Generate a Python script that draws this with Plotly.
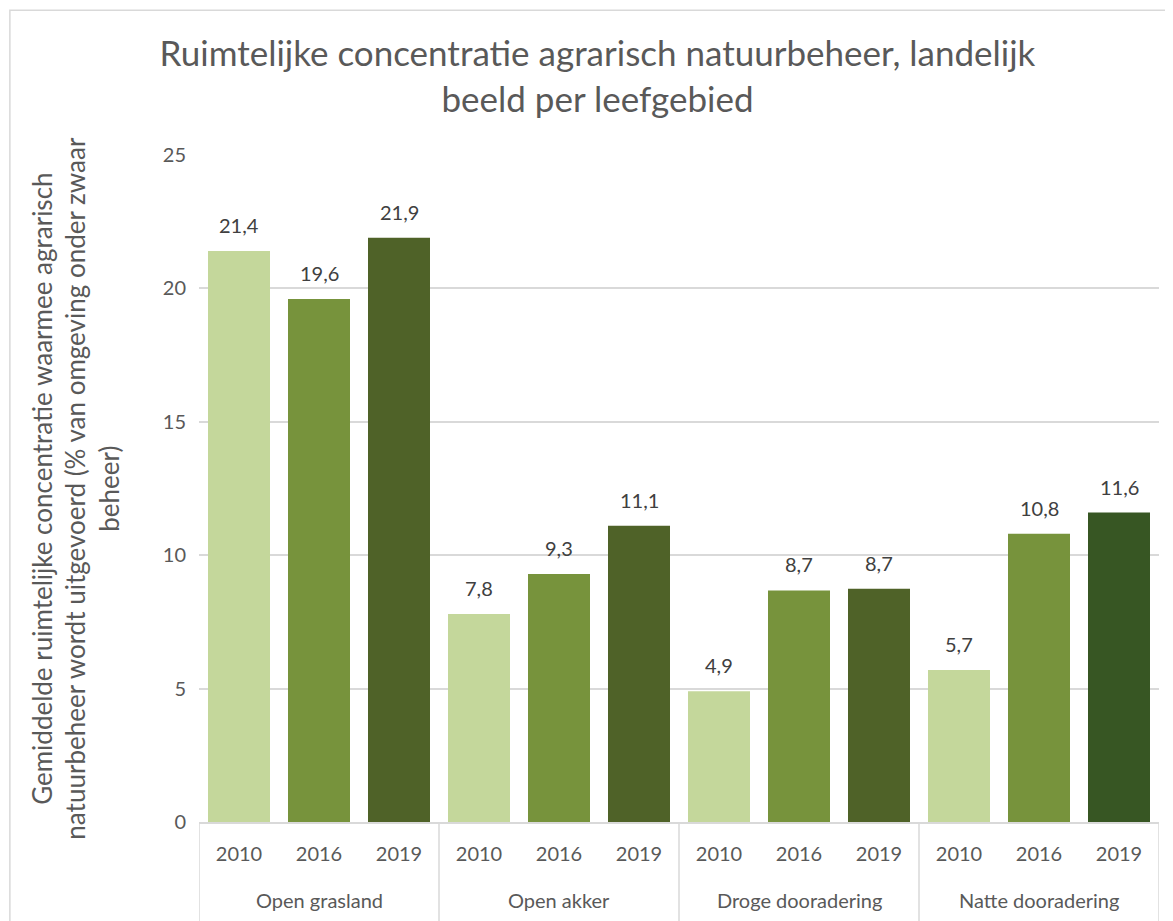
import plotly.graph_objects as go

# data
groups = ["Open grasland", "Open akker", "Droge dooradering", "Natte dooradering"]
years = ["2010", "2016", "2019"]
values = [
    [21.4, 19.6, 21.9],
    [7.8, 9.3, 11.1],
    [4.9, 8.68, 8.74],
    [5.7, 10.8, 11.6],
]
year_colors = {"2010": "#C4D79B", "2016": "#77933C", "2019": "#4F6228"}
last_bar_color = "#375623"

x_pos, x_year, y_vals, colors = [], [], [], []
for gi, row in enumerate(values):
    for yi, v in enumerate(row):
        x_pos.append(gi * len(years) + yi)
        x_year.append(years[yi])
        y_vals.append(v)
        colors.append(year_colors[years[yi]])
colors[-1] = last_bar_color

font_family = "Lato, 'Open Sans', sans-serif"
txt_color = "#595959"
grid_color = "#D9D9D9"

fig = go.Figure(go.Bar(
    x=x_pos,
    y=y_vals,
    marker=dict(color=colors, line=dict(width=0)),
    hoverinfo="skip",
))

# data labels (decimal comma)
for x, v in zip(x_pos, y_vals):
    fig.add_annotation(
        x=x, y=v, xref="x", yref="y",
        text=f"{v:.1f}".replace(".", ","),
        showarrow=False, yanchor="bottom", yshift=12,
        font=dict(size=20, color="#404040", family=font_family),
    )

# group labels + dividers below the axis
n = len(years)
for gi, g in enumerate(groups):
    fig.add_annotation(
        x=gi * n + (n - 1) / 2, y=-0.117, xref="x", yref="paper",
        text=g, showarrow=False, xanchor="center", yanchor="middle",
        font=dict(size=20, color=txt_color, family=font_family),
    )
for gi in range(len(groups) + 1):
    fig.add_shape(
        type="line", xref="x", yref="paper",
        x0=gi * n - 0.5, x1=gi * n - 0.5, y0=0, y1=-0.16,
        line=dict(color=grid_color, width=1.5),
    )

# y-axis title
fig.add_annotation(
    xref="paper", yref="paper", x=-0.129, y=0.5,
    text="Gemiddelde ruimtelijke concentratie waarmee agrarisch<br>"
         "natuurbeheer wordt uitgevoerd (% van omgeving onder zwaar<br>beheer)",
    textangle=-90, showarrow=False, xanchor="center", yanchor="middle",
    font=dict(size=26, color=txt_color, family=font_family),
)

# chart area border
fig.add_shape(
    type="rect", xref="paper", yref="paper",
    x0=-0.197, x1=1.0135, y0=-0.3, y1=1.217,
    line=dict(color=grid_color, width=1.5), fillcolor="rgba(0,0,0,0)", layer="below",
)

fig.update_layout(
    width=1165, height=913,
    margin=dict(l=191, r=14, t=147, b=99),
    paper_bgcolor="white", plot_bgcolor="white",
    bargap=0.225,
    showlegend=False,
    font=dict(family=font_family, color=txt_color, size=20),
    title=dict(
        text="Ruimtelijke concentratie agrarisch natuurbeheer, landelijk<br>beeld per leefgebied",
        x=0.506, xref="container", xanchor="center",
        y=0.936, yref="container", yanchor="top",
        font=dict(size=35, color=txt_color, family=font_family),
    ),
    xaxis=dict(
        range=[-0.5, len(x_pos) - 0.5],
        tickmode="array", tickvals=x_pos, ticktext=x_year,
        showline=True, linecolor=grid_color, linewidth=1.5,
        tickfont=dict(size=20, color=txt_color),
        ticks="", showgrid=False, zeroline=False,
        ticklabelstandoff=13,
    ),
    yaxis=dict(
        range=[0, 25], dtick=5,
        showgrid=True, gridcolor=grid_color, gridwidth=1.5,
        zeroline=False, showline=False,
        tickfont=dict(size=20, color=txt_color),
        ticklabelstandoff=12,
    ),
)

fig.write_html("out.html")
